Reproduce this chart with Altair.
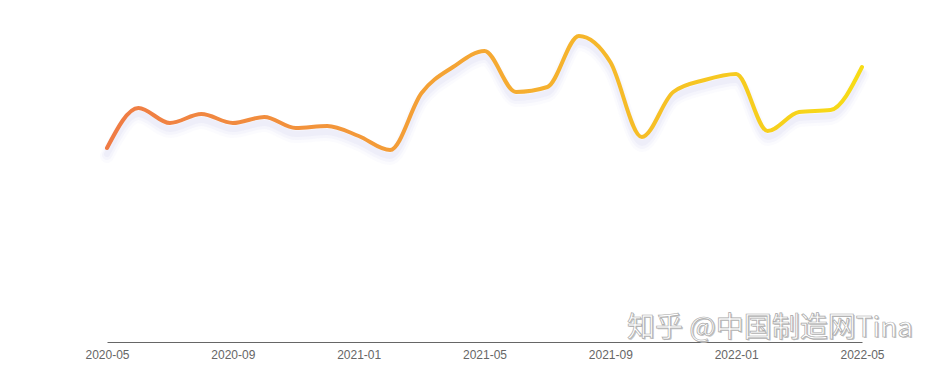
import altair as alt
import pandas as pd

months = ["2020-05","2020-06","2020-07","2020-08","2020-09","2020-10","2020-11","2020-12",
          "2021-01","2021-02","2021-03","2021-04","2021-05","2021-06","2021-07","2021-08",
          "2021-09","2021-10","2021-11","2021-12","2022-01","2022-02","2022-03","2022-04","2022-05"]
values = [194,234,219,228,219,225,214,216,206,192,249,275,291,250,255,306,280,205,250,262,268,211,230,232,275]
tick_labels = ["2020-05","2020-09","2021-01","2021-05","2021-09","2022-01","2022-05"]

df = pd.DataFrame({"month": months, "value": values})

x = alt.X("month:O", sort=months,
          scale=alt.Scale(type="point", padding=0),
          axis=alt.Axis(values=tick_labels, labelAngle=0, title=None, ticks=False,
                        domainColor="#666666", domainWidth=1, labelColor="#666666",
                        labelFontSize=12, labelFont="Liberation Sans", labelPadding=7,
                        grid=False))
y = alt.Y("value:Q", scale=alt.Scale(domain=[0, 332], nice=False, zero=True), axis=None)

base = alt.Chart(df).encode(x=x, y=y)

shadows = [
    base.mark_line(interpolate="monotone", stroke="#c8c8ee", strokeWidth=w, opacity=o, yOffset=off, strokeCap="round")
    for w, o, off in [(14, 0.07, 8), (10, 0.1, 7), (6, 0.15, 6)]
]

line = base.mark_line(
    interpolate="monotone", strokeWidth=4, strokeCap="round",
    stroke=alt.Gradient(gradient="linear",
                        stops=[alt.GradientStop(color="#EF7B45", offset=0),
                               alt.GradientStop(color="#F5A833", offset=0.5),
                               alt.GradientStop(color="#F7DC16", offset=1)],
                        x1=0, x2=1, y1=0, y2=0))

wm = pd.DataFrame({"t": ["知乎 @中国制造网Tina"]})
wm_shadow = alt.Chart(wm).mark_text(
    align="left", baseline="middle", fontSize=28, font="Noto Sans CJK SC",
    fill="#c4c4c4", dx=1.2, dy=1.2).encode(x=alt.value(520), y=alt.value(319), text="t:N")
wm_text = alt.Chart(wm).mark_text(
    align="left", baseline="middle", fontSize=28, font="Noto Sans CJK SC",
    fill="#ffffff", stroke="#a8a8a8", strokeWidth=0.7).encode(x=alt.value(520), y=alt.value(319), text="t:N")

chart = alt.layer(*shadows, line, wm_shadow, wm_text).properties(
    width=755, height=332,
    padding={"left": 107, "top": 10, "right": 75, "bottom": 30},
    autosize=alt.AutoSizeParams(type="none"),
    background="#ffffff",
).configure_view(stroke=None)

chart.save("out.html", embed_options={"renderer": "svg", "actions": False})
